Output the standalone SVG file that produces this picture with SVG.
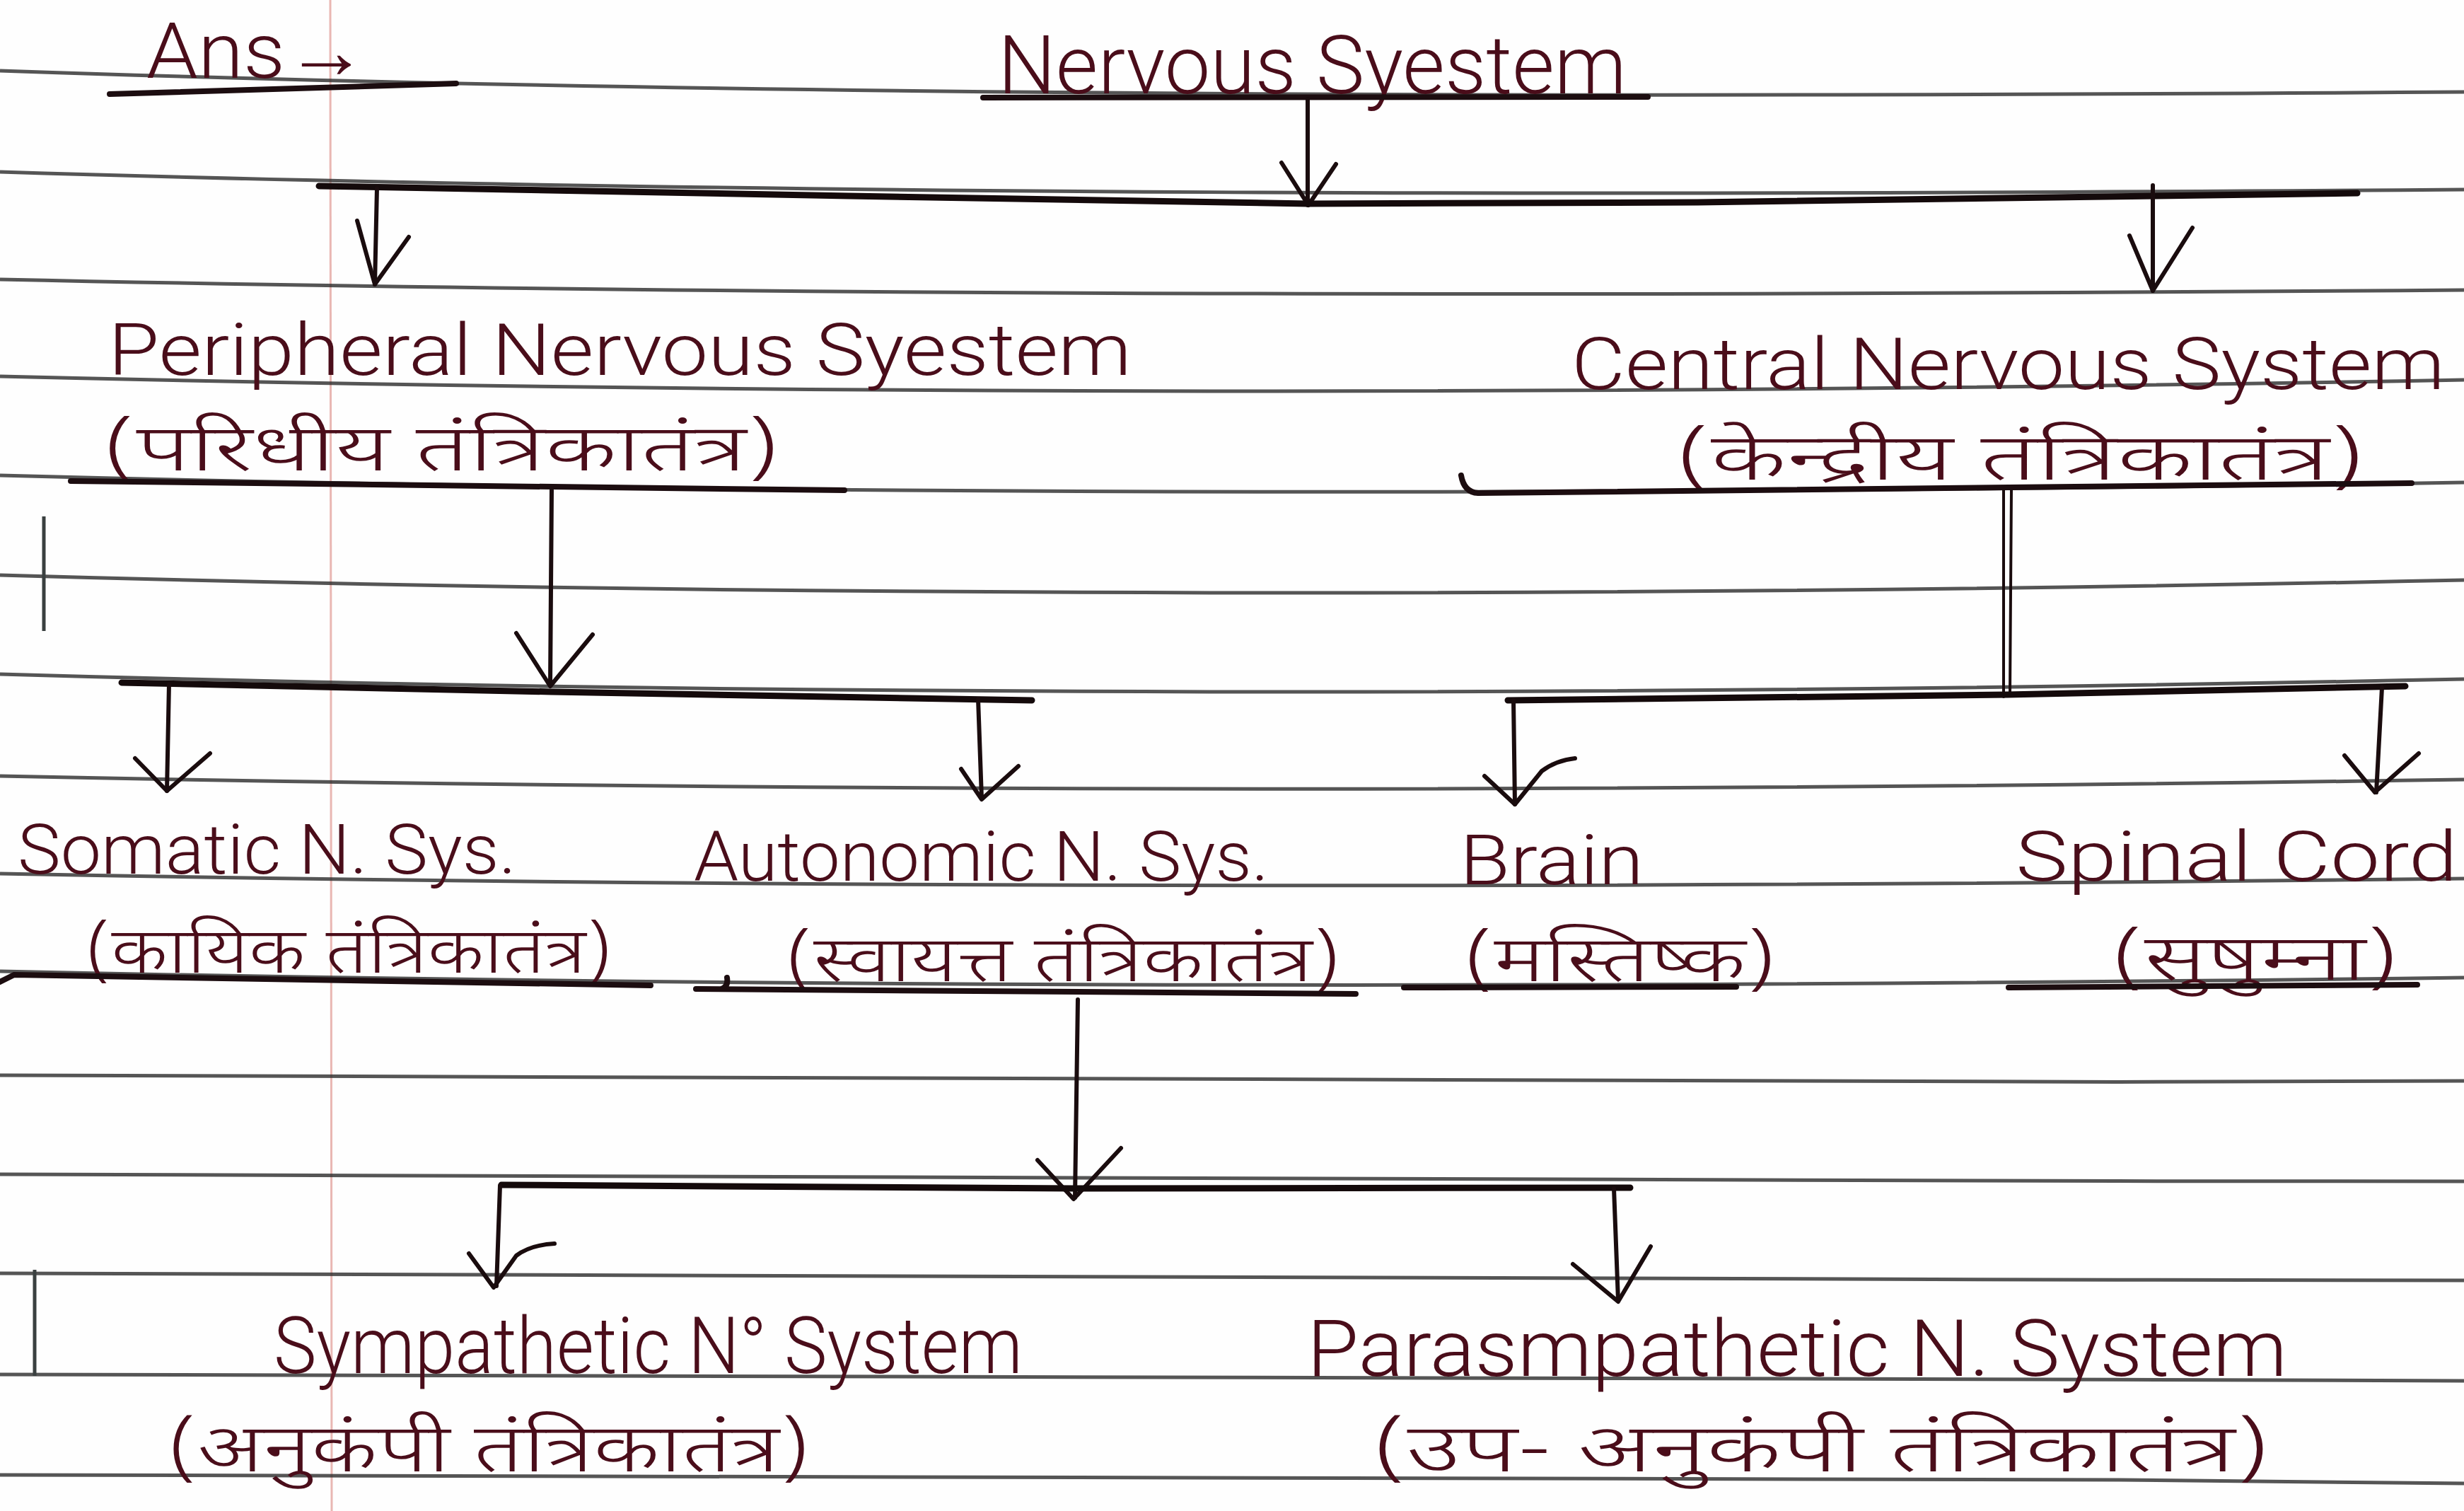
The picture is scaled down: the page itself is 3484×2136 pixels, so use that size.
<svg xmlns="http://www.w3.org/2000/svg" width="3484" height="2136" viewBox="0 0 3484 2136">
<style>
.rule{fill:none;stroke:#2b2b2b;stroke-width:5;opacity:0.8}
.margin{fill:none;stroke:#e9b7b3;stroke-width:3}
.mark{fill:none;stroke:#3a4040;stroke-width:5}
.con{fill:none;stroke:#1a0c0e;stroke-width:6;stroke-linecap:round;stroke-linejoin:round}
.bar{fill:none;stroke:#140a0b;stroke-width:9;stroke-linecap:round}
.ul{fill:none;stroke:#1c0d10;stroke-width:8;stroke-linecap:round}
.en{font-family:"Roboto","Liberation Sans",sans-serif;font-weight:300;fill:#4a0d1a}
.hi{font-family:"Noto Sans Devanagari","Noto Sans","Lohit Devanagari","FreeSans",sans-serif;font-weight:300;fill:#4a0d1a}
</style>
<rect width="3484" height="2136" fill="#fefefe"/>
<g id="paper">
<path class="margin" d="M467,0 L469,2136"/>
<path class="rule" d="M0,100 C1100,138 2300,138 3484,130"/>
<path class="rule" d="M0,243 C1100,277 2300,277 3484,268"/>
<path class="rule" d="M0,395 C1100,419 2300,419 3484,410"/>
<path class="rule" d="M0,532 C1100,559 2300,559 3484,537"/>
<path class="rule" d="M0,672 C1100,701 2300,701 3484,682"/>
<path class="rule" d="M0,813 C1100,845 2300,845 3484,820"/>
<path class="rule" d="M0,953 C1100,985 2300,985 3484,960"/>
<path class="rule" d="M0,1097 C1100,1120 2300,1120 3484,1102"/>
<path class="rule" d="M0,1235 C1100,1256 2300,1256 3484,1242"/>
<path class="rule" d="M0,1373 C1100,1397 2300,1397 3484,1382"/>
<path class="rule" d="M0,1520 C1100,1532 2300,1532 3484,1528"/>
<path class="rule" d="M0,1660 C1100,1669 2300,1669 3484,1670"/>
<path class="rule" d="M0,1800 C1100,1808 2300,1808 3484,1810"/>
<path class="rule" d="M0,1943 C1100,1947 2300,1947 3484,1952"/>
<path class="rule" d="M0,2085 C1100,2083 2300,2083 3484,2097"/>
<path class="mark" d="M62,730 L62,892"/>
<path class="mark" d="M49,1795 L49,1945"/>
</g>
<g id="ans">
<text class="en" x="207" y="110" font-size="110" textLength="313" lengthAdjust="spacingAndGlyphs">Ans→</text>
<path class="ul" d="M155,133 L645,118"/>
</g>
<g id="nervous-system">
<text class="en" x="1411" y="132" font-size="115" textLength="889" lengthAdjust="spacingAndGlyphs">Nervous Syestem</text>
<path class="ul" d="M1390,138 L2330,137"/>
</g>
<g id="pns">
<text class="en" x="153" y="530" font-size="102" textLength="1447" lengthAdjust="spacingAndGlyphs">Peripheral Nervous Syestem</text>
<text class="hi" x="145" y="665" font-size="92" textLength="958" lengthAdjust="spacingAndGlyphs">(परिधीय तंत्रिकातंत्र)</text>
<path class="ul" d="M100,680 L1194,693"/>
</g>
<g id="cns">
<text class="en" x="2222" y="550" font-size="102" textLength="1235" lengthAdjust="spacingAndGlyphs">Central Nervous System</text>
<text class="hi" x="2369" y="678" font-size="92" textLength="975" lengthAdjust="spacingAndGlyphs">(केन्द्रीय तंत्रिकातंत्र)</text>
<path class="ul" d="M2066,672 Q2070,696 2090,697 L3410,683"/>
</g>
<g id="somatic">
<text class="en" x="25" y="1235" font-size="98" textLength="705" lengthAdjust="spacingAndGlyphs">Somatic N. Sys.</text>
<text class="hi" x="120" y="1375" font-size="90" textLength="746" lengthAdjust="spacingAndGlyphs">(कायिक तंत्रिकातंत्र)</text>
<path class="ul" d="M0,1388 L20,1378 L920,1393"/>
</g>
<g id="autonomic">
<text class="en" x="981" y="1245" font-size="98" textLength="813" lengthAdjust="spacingAndGlyphs">Autonomic N. Sys.</text>
<text class="hi" x="1110" y="1387" font-size="90" textLength="786" lengthAdjust="spacingAndGlyphs">(स्वायत्त तंत्रिकातंत्र)</text>
<path class="ul" d="M1028,1382 Q1030,1395 1020,1398 M984,1398 L1917,1405"/>
</g>
<g id="brain">
<text class="en" x="2064" y="1250" font-size="98" textLength="260" lengthAdjust="spacingAndGlyphs">Brain</text>
<text class="hi" x="2069" y="1387" font-size="90" textLength="443" lengthAdjust="spacingAndGlyphs">(मस्तिष्क)</text>
<path class="ul" d="M1985,1396 L2455,1395"/>
</g>
<g id="spinal-cord">
<text class="en" x="2850" y="1245" font-size="98" textLength="625" lengthAdjust="spacingAndGlyphs">Spinal Cord</text>
<text class="hi" x="2985" y="1385" font-size="90" textLength="407" lengthAdjust="spacingAndGlyphs">(सुषुम्ना)</text>
<path class="ul" d="M2840,1396 L3418,1392"/>
</g>
<g id="sympathetic">
<text class="en" x="387" y="1941" font-size="112" textLength="1059" lengthAdjust="spacingAndGlyphs">Sympathetic N° System</text>
<text class="hi" x="236" y="2080" font-size="95" textLength="910" lengthAdjust="spacingAndGlyphs">(अनुकंपी तंत्रिकातंत्र)</text>
</g>
<g id="parasympathetic">
<text class="en" x="1848" y="1945" font-size="112" textLength="1386" lengthAdjust="spacingAndGlyphs">Parasmpathetic N. System</text>
<text class="hi" x="1940" y="2080" font-size="95" textLength="1270" lengthAdjust="spacingAndGlyphs">(उप- अनुकंपी तंत्रिकातंत्र)</text>
</g>
<g id="connectors">
<path class="con" d="M1849,140 L1849,290"/>
<path class="con" d="M1812,230 L1850,290 L1889,232"/>
<path class="bar" d="M451,263 L1200,277 L1849,288 L2400,286 L3333,273"/>
<path class="con" d="M533,266 L530,402"/>
<path class="con" d="M505,312 L530,402 L578,335"/>
<path class="con" d="M3044,262 L3044,411"/>
<path class="con" d="M3011,333 L3044,411 L3100,322"/>
<path class="con" d="M780,693 L778,968"/>
<path class="con" d="M730,895 L778,970 L838,897"/>
<path class="bar" d="M172,965 L780,978 L1459,990"/>
<path class="con" d="M239,967 L236,1118"/>
<path class="con" d="M191,1072 L236,1118 L297,1065"/>
<path class="con" d="M1383,988 L1388,1128"/>
<path class="con" d="M1359,1087 L1388,1130 L1440,1083"/>
<path class="con" d="M2833,693 L2833,985 M2844,693 L2842,980" style="stroke-width:4"/>
<path class="bar" d="M2132,990 L2838,982 L3401,970"/>
<path class="con" d="M2140,990 L2142,1137"/>
<path class="con" d="M2099,1097 L2142,1137 L2180,1090 Q2200,1075 2227,1072"/>
<path class="con" d="M3368,972 L3360,1120"/>
<path class="con" d="M3315,1068 L3358,1120 L3420,1065"/>
<path class="con" d="M1524,1413 L1520,1693"/>
<path class="con" d="M1467,1640 L1518,1695 L1585,1623"/>
<path class="bar" d="M709,1675 L1518,1680 L2305,1679"/>
<path class="con" d="M707,1676 L702,1818"/>
<path class="con" d="M663,1772 L698,1820 L730,1775 Q750,1760 784,1758"/>
<path class="con" d="M2282,1680 L2288,1838"/>
<path class="con" d="M2224,1787 L2288,1840 L2334,1762"/>
</g>
</svg>
